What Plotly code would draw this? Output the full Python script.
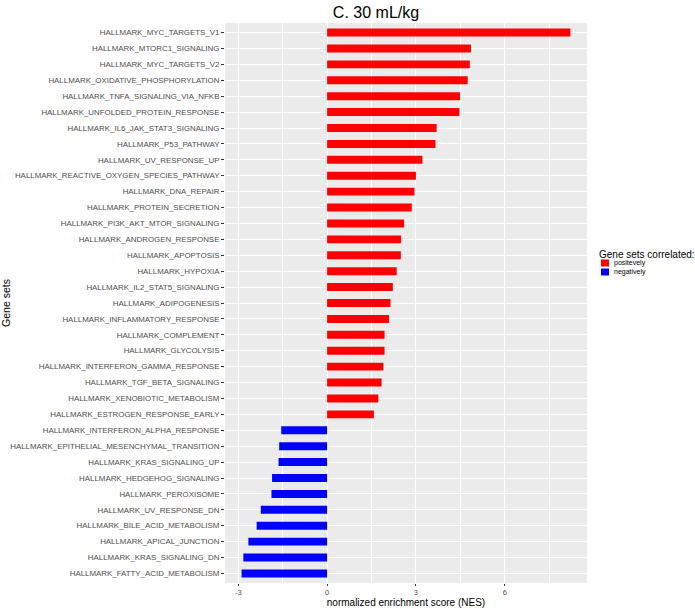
import plotly.graph_objects as go

# gene sets, top to bottom as in the figure
gene_sets = [
    "HALLMARK_MYC_TARGETS_V1",
    "HALLMARK_MTORC1_SIGNALING",
    "HALLMARK_MYC_TARGETS_V2",
    "HALLMARK_OXIDATIVE_PHOSPHORYLATION",
    "HALLMARK_TNFA_SIGNALING_VIA_NFKB",
    "HALLMARK_UNFOLDED_PROTEIN_RESPONSE",
    "HALLMARK_IL6_JAK_STAT3_SIGNALING",
    "HALLMARK_P53_PATHWAY",
    "HALLMARK_UV_RESPONSE_UP",
    "HALLMARK_REACTIVE_OXYGEN_SPECIES_PATHWAY",
    "HALLMARK_DNA_REPAIR",
    "HALLMARK_PROTEIN_SECRETION",
    "HALLMARK_PI3K_AKT_MTOR_SIGNALING",
    "HALLMARK_ANDROGEN_RESPONSE",
    "HALLMARK_APOPTOSIS",
    "HALLMARK_HYPOXIA",
    "HALLMARK_IL2_STAT5_SIGNALING",
    "HALLMARK_ADIPOGENESIS",
    "HALLMARK_INFLAMMATORY_RESPONSE",
    "HALLMARK_COMPLEMENT",
    "HALLMARK_GLYCOLYSIS",
    "HALLMARK_INTERFERON_GAMMA_RESPONSE",
    "HALLMARK_TGF_BETA_SIGNALING",
    "HALLMARK_XENOBIOTIC_METABOLISM",
    "HALLMARK_ESTROGEN_RESPONSE_EARLY",
    "HALLMARK_INTERFERON_ALPHA_RESPONSE",
    "HALLMARK_EPITHELIAL_MESENCHYMAL_TRANSITION",
    "HALLMARK_KRAS_SIGNALING_UP",
    "HALLMARK_HEDGEHOG_SIGNALING",
    "HALLMARK_PEROXISOME",
    "HALLMARK_UV_RESPONSE_DN",
    "HALLMARK_BILE_ACID_METABOLISM",
    "HALLMARK_APICAL_JUNCTION",
    "HALLMARK_KRAS_SIGNALING_DN",
    "HALLMARK_FATTY_ACID_METABOLISM",
]
nes = [
    8.22, 4.86, 4.82, 4.75, 4.49, 4.47, 3.70, 3.66, 3.22, 3.00,
    2.95, 2.86, 2.60, 2.50, 2.49, 2.35, 2.22, 2.14, 2.09, 1.94,
    1.94, 1.90, 1.84, 1.73, 1.58,
    -1.55, -1.62, -1.64, -1.86, -1.88, -2.24, -2.38, -2.66, -2.83, -2.89,
]
x_ticks = [-3, 0, 3, 6]
legend_labels = ["positevely", "negatively"]
legend_colors = ["#FF0000", "#0000FF"]

pos_sets = [g for g, v in zip(gene_sets, nes) if v > 0]
pos_nes = [v for v in nes if v > 0]
neg_sets = [g for g, v in zip(gene_sets, nes) if v < 0]
neg_nes = [v for v in nes if v < 0]

font = "Liberation Sans, Arial, sans-serif"
W, H = 695, 609
L, R, T, B = 225, 108, 23, 26

fig = go.Figure()
fig.add_trace(go.Bar(x=pos_nes, y=pos_sets, orientation="h", name=legend_labels[0],
                     marker=dict(color=legend_colors[0], line=dict(width=0)), width=0.5))
fig.add_trace(go.Bar(x=neg_nes, y=neg_sets, orientation="h", name=legend_labels[1],
                     marker=dict(color=legend_colors[1], line=dict(width=0)), width=0.5))

n = len(gene_sets)
fig.update_layout(
    width=W, height=H,
    margin=dict(l=L, r=R, t=T, b=B, autoexpand=False),
    paper_bgcolor="white", plot_bgcolor="#EBEBEB",
    font=dict(family=font, color="#4D4D4D"),
    title=dict(text="C. 30 mL/kg", xref="paper", x=(376 - L) / (W - L - R), xanchor="center",
               yref="container", y=1 - 12 / H, yanchor="middle",
               font=dict(size=16, color="black")),
    barmode="overlay",
    showlegend=False,
    xaxis=dict(range=[-3.45, 8.78], tickvals=x_ticks, ticktext=[str(t) for t in x_ticks],
               automargin=False,
               showgrid=True, gridcolor="white", gridwidth=1.1, zeroline=False,
               minor=dict(tickvals=[-1.5, 1.5, 4.5, 7.5], showgrid=True,
                          gridcolor="white", gridwidth=0.5),
               ticks="outside", ticklen=2, tickcolor="#333333",
               tickfont=dict(size=7.5, color="#4D4D4D"),
               title=dict(text="normalized enrichment score (NES)", standoff=1,
                          font=dict(size=10, color="black"))),
    yaxis=dict(type="category", categoryorder="array", categoryarray=gene_sets,
               automargin=False,
               range=[n - 0.4, -0.6], showgrid=True, gridcolor="white", gridwidth=1.1,
               ticks="outside", ticklen=3, tickcolor="#333333",
               tickfont=dict(size=7.9, color="#4D4D4D"),
               title=dict(text="Gene sets", standoff=2,
                          font=dict(size=10.5, color="black"))),
)

# ggplot-style compact legend drawn in the right margin
lx = (597 - L) / (W - L - R)


def py(px):
    return 1 - (px - T) / (H - T - B)


fig.add_annotation(text="Gene sets correlated:", xref="paper", yref="paper",
                   x=lx, y=py(254), xanchor="left", yanchor="middle", showarrow=False,
                   font=dict(size=10, color="black"))
for i, (lab, col) in enumerate(zip(legend_labels, legend_colors)):
    cy = 263 + 9 * i
    fig.add_shape(type="rect", xref="paper", yref="paper",
                  x0=(601 - L) / (W - L - R), x1=(609 - L) / (W - L - R),
                  y0=py(cy + 3.5), y1=py(cy - 3.5),
                  fillcolor=col, line=dict(width=0))
    fig.add_annotation(text=lab, xref="paper", yref="paper",
                       x=(612 - L) / (W - L - R), y=py(cy), xanchor="left", yanchor="middle",
                       showarrow=False, font=dict(size=7, color="black"))

# drop the default page margin so the figure sits at the window's top-left
fig.write_html("out.html", config={"displayModeBar": False},
               post_script="document.body.style.margin='0px';")
